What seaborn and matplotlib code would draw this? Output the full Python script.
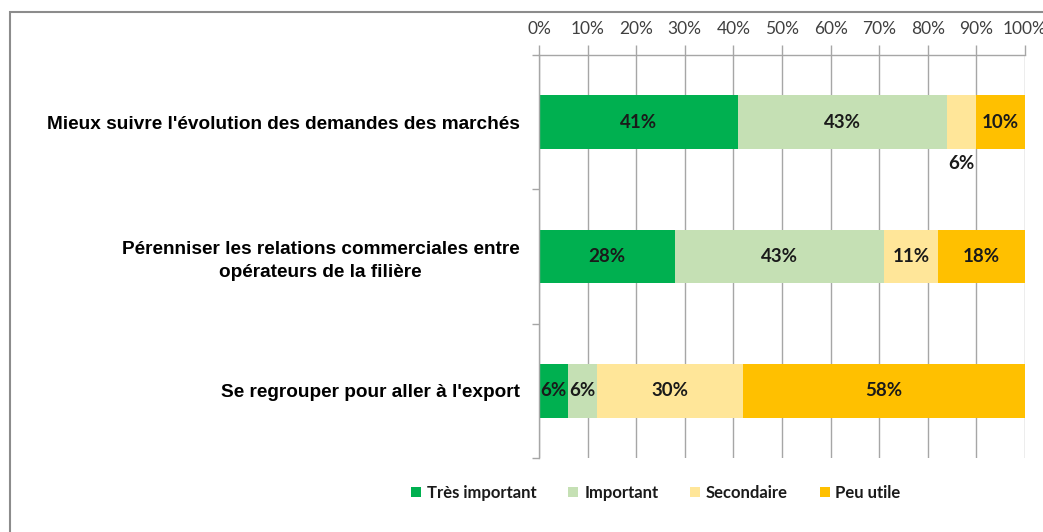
import matplotlib
matplotlib.use("Agg")
import matplotlib.pyplot as plt
from matplotlib.patches import Rectangle
from matplotlib.lines import Line2D
from matplotlib.ticker import FixedLocator, PercentFormatter
import numpy as np
import pandas as pd
import seaborn as sns

# Survey answers: share of respondents per importance level (%)
categories = [
    "Mieux suivre l'évolution des demandes des marchés",
    "Pérenniser les relations commerciales entre\nopérateurs de la filière",
    "Se regrouper pour aller à l'export",
]
levels = ["Très important", "Important", "Secondaire", "Peu utile"]
tres_important = [41, 28, 6]
important = [43, 43, 6]
secondaire = [6, 11, 30]
peu_utile = [10, 18, 58]
colors = ["#00B050", "#C5E0B4", "#FFE699", "#FFC000"]
ticks = [0, 10, 20, 30, 40, 50, 60, 70, 80, 90, 100]

sns.set_theme(style="white")
plt.rcParams["font.family"] = ["Lato", "DejaVu Sans"]

values = np.array([tres_important, important, secondaire, peu_utile], dtype=float)
cum = np.cumsum(values, axis=0)

fig = plt.figure(figsize=(10.43, 5.32), dpi=100)
ax = fig.add_axes([539 / 1043, 1 - 458 / 532, (1025 - 539) / 1043, (458 - 55) / 532])

# vertical gridlines behind bars
for t in ticks:
    ax.axvline(t, color="#A6A6A6", lw=1.0, zorder=0)

# stacked bars: draw cumulative totals from the largest layer down
for i in range(len(levels) - 1, -1, -1):
    df = pd.DataFrame({"cat": categories, "val": cum[i]})
    sns.barplot(data=df, x="val", y="cat", orient="h", color=colors[i],
                width=0.4, saturation=1, ax=ax, zorder=2, linewidth=0)

# value labels centred in each segment
for i in range(len(levels)):
    for j in range(len(categories)):
        v = values[i, j]
        mid = cum[i, j] - v / 2
        yy = j
        if v <= 6 and j == 0:
            yy = j + 0.31
        ax.text(mid, yy, f"{v:.0f}%", ha="center", va="center",
                fontsize=13.5, fontweight="bold", color="#1A1A1A", zorder=3)

ax.set_xlim(0, 100)
ax.set_ylim(2.5, -0.5)
ax.set_xlabel("")
ax.set_ylabel("")

# percentage axis on top
ax.xaxis.tick_top()
ax.xaxis.set_major_locator(FixedLocator(ticks))
ax.xaxis.set_major_formatter(PercentFormatter(100, decimals=0))
ax.tick_params(axis="x", which="major", top=True, bottom=False, length=7,
               width=1, color="#A6A6A6", labelsize=12.5, labelcolor="#404040", pad=6)

# category axis
ax.yaxis.set_minor_locator(FixedLocator([-0.5, 0.5, 1.5, 2.5]))
ax.tick_params(axis="y", which="major", length=0, pad=14)
ax.tick_params(axis="y", which="minor", left=True, length=5, width=1, color="#A6A6A6")
for lab in ax.get_yticklabels():
    lab.set_family(["Liberation Sans", "DejaVu Sans"])
    lab.set_fontweight("bold")
    lab.set_fontsize(13.7)
    lab.set_color("#000000")
    lab.set_multialignment("center")
    lab.set_linespacing(1.45)

for side in ["right", "bottom"]:
    ax.spines[side].set_visible(False)
ax.spines["left"].set_color("#A6A6A6")
ax.spines["top"].set_color("#A6A6A6")
ax.spines["left"].set_linewidth(1)
ax.spines["top"].set_linewidth(1)

# legend below the plot
handles = [Line2D([0], [0], marker="s", linestyle="", markersize=7,
                  markerfacecolor=c, markeredgewidth=0) for c in colors]
leg = fig.legend(handles, levels, loc="center", bbox_to_anchor=(656 / 1043, 1 - 493 / 532),
                 ncol=4, frameon=False, handlelength=0.6, handletextpad=0.35,
                 columnspacing=1.9, prop={"size": 12, "weight": "bold"})
for t in leg.get_texts():
    t.set_color("#1A1A1A")

# chart area border
fig.patches.append(Rectangle((10 / 1043, -0.05), 1.1, 1 - 12 / 532 + 0.05,
                             transform=fig.transFigure, fill=False,
                             edgecolor="#8C8C8C", linewidth=1.5, zorder=10))

fig.savefig("out.png", dpi=100)
